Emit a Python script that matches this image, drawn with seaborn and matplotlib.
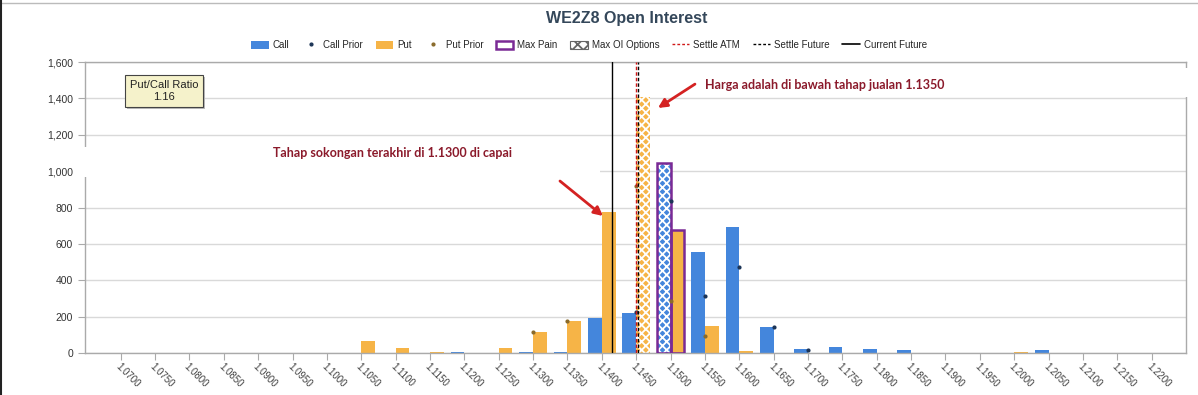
import numpy as np
import pandas as pd
import seaborn as sns
import matplotlib.pyplot as plt
from matplotlib.patches import Patch, Rectangle
from matplotlib.lines import Line2D
from matplotlib.ticker import FuncFormatter
import matplotlib.transforms as mtransforms

# strike prices (x axis categories)
strikes = ["1.0700", "1.0750", "1.0800", "1.0850", "1.0900", "1.0950", "1.1000",
           "1.1050", "1.1100", "1.1150", "1.1200", "1.1250", "1.1300", "1.1350",
           "1.1400", "1.1450", "1.1500", "1.1550", "1.1600", "1.1650", "1.1700",
           "1.1750", "1.1800", "1.1850", "1.1900", "1.1950", "1.2000", "1.2050",
           "1.2100", "1.2150", "1.2200"]

# open interest
call_oi = [0, 0, 0, 0, 0, 0, 0, 0, 0, 0, 5, 0, 4, 4, 194, 222, 1047, 554, 691, 145,
           22, 35, 24, 17, 0, 0, 0, 18, 0, 0, 0]
put_oi = [0, 0, 0, 0, 0, 0, 0, 68, 29, 6, 0, 29, 115, 176, 774, 1405, 676, 149, 10, 0,
          0, 0, 0, 0, 0, 0, 7, 0, 0, 0, 0]
nan = np.nan
call_prior = [nan] * 15 + [227, 838, 315, 475, 141, 16] + [nan] * 10
put_prior = [nan] * 12 + [118, 176, nan, 918, 288, 94] + [nan] * 13

max_pain = "1.1500"
max_oi_call = "1.1500"
max_oi_put = "1.1450"
settle_atm = 1.1450
settle_future = 1.1453
current_future = 1.1415
put_call_ratio = "1.16"

call_color = "#4486dc"
put_color = "#f6b447"
call_prior_color = "#1d3557"
put_prior_color = "#8a6b2c"
pain_color = "#7a2a95"

sns.set_style("white")
plt.rcParams["font.family"] = ["Liberation Sans", "DejaVu Sans"]
plt.rcParams["hatch.linewidth"] = 1.3

x_vals = [float(s) for s in strikes]
df = pd.DataFrame({
    "strike": x_vals * 2,
    "oi": call_oi + put_oi,
    "type": ["Call"] * len(strikes) + ["Put"] * len(strikes),
})

fig = plt.figure(figsize=(11.98, 3.95), dpi=100)
ax = fig.add_axes([85 / 1198, 1 - 353 / 395, (1186 - 85) / 1198, (353 - 62) / 395])

sns.barplot(data=df, x="strike", y="oi", hue="type", hue_order=["Call", "Put"],
            palette=[call_color, put_color], native_scale=True, width=0.8,
            dodge=True, errorbar=None, saturation=1, legend=False, ax=ax,
            linewidth=0, zorder=2)

# max OI hatching and max pain outline
call_bars = ax.containers[0]
put_bars = ax.containers[1]
for bars, hatch_at in [(call_bars, max_oi_call), (put_bars, max_oi_put)]:
    p = bars[strikes.index(hatch_at)]
    p.set_hatch("xxxx")
    p.set_edgecolor("white")
    p.set_linewidth(0)
for bars in [call_bars, put_bars]:
    p = bars[strikes.index(max_pain)]
    ax.add_patch(Rectangle((p.get_x(), 0), p.get_width(), p.get_height(),
                           fill=False, edgecolor=pain_color, lw=1.8, zorder=4))

sns.scatterplot(x=x_vals, y=call_prior, color=call_prior_color, s=9,
                linewidth=0, zorder=5, ax=ax)
sns.scatterplot(x=x_vals, y=put_prior, color=put_prior_color, s=9,
                linewidth=0, zorder=5, ax=ax)

ax.axvline(current_future, color="black", lw=1, zorder=6)
ax.axvline(settle_atm, color="#d01818", lw=1, ls=(0, (2.5, 1.5)), zorder=6)
ax.axvline(settle_future, color="black", lw=1, ls=(0, (2.5, 1.5)), zorder=6)

ax.set_xlim(1.0648, 1.2250)
ax.set_ylim(0, 1600)
ax.set_xticks(x_vals)
ax.set_xticklabels(strikes, rotation=-45, ha="left", va="top",
                   rotation_mode="anchor", fontsize=7, color="#444444")
ax.set_yticks(range(0, 1601, 200))
ax.yaxis.set_major_formatter(FuncFormatter(lambda v, _: f"{v:,.0f}"))
ax.tick_params(axis="y", labelsize=7.5, labelcolor="#333333", length=5,
               color="#aaaaaa", direction="out", left=True)
ax.tick_params(axis="x", length=5, color="#aaaaaa", direction="out",
               bottom=True, pad=1)
ax.set_xlabel("")
ax.set_ylabel("")
ax.yaxis.grid(True, color="#d9d9d9", lw=1)
ax.set_axisbelow(True)
for s in ax.spines.values():
    s.set_color("#aaaaaa")
    s.set_linewidth(1)

# put/call ratio box with a little shadow
shadow = mtransforms.offset_copy(ax.transAxes, fig=fig, x=2, y=-2, units="dots")
ax.text(0.0718, 0.900, f"Put/Call Ratio\n{put_call_ratio}", transform=shadow,
        ha="center", va="center", fontsize=8, color="none", linespacing=1.15,
        bbox=dict(boxstyle="square,pad=0.45", fc="#bbbbbb", ec="none"), zorder=7)
ax.text(0.0718, 0.900, f"Put/Call Ratio\n{put_call_ratio}", transform=ax.transAxes,
        ha="center", va="center", fontsize=8, color="#222222", linespacing=1.15,
        bbox=dict(boxstyle="square,pad=0.45", fc="#f5f2cb", ec="#444444", lw=0.8),
        zorder=8)

# white patches left over from the edited screenshot
fig.add_artist(Rectangle((73 / 1198, 1 - 177 / 395), 527 / 1198, 30 / 395,
                         transform=fig.transFigure, fc="white", ec="none", zorder=9))
fig.add_artist(Rectangle((700 / 1198, 1 - 97 / 395), 498 / 1198, 29 / 395,
                         transform=fig.transFigure, fc="white", ec="none", zorder=9))

# annotations
note_color = "#8b1a2b"
arrow = dict(arrowstyle="-|>", color="#d42222", lw=2, mutation_scale=13,
             shrinkA=0, shrinkB=0)
fig.text(705 / 1198, 1 - 85 / 395, "Harga adalah di bawah tahap jualan 1.1350",
         ha="left", va="center", fontsize=9, fontweight="bold", color=note_color,
         family=["Lato", "DejaVu Sans"], zorder=10)
fig.text(273 / 1198, 1 - 153 / 395, "Tahap sokongan terakhir di 1.1300 di capai",
         ha="left", va="center", fontsize=9, fontweight="bold", color=note_color,
         family=["Lato", "DejaVu Sans"], zorder=10)
ax.annotate("", xy=(0.5204, 0.842), xytext=(0.554, 0.924), xycoords="axes fraction",
            arrowprops=arrow, zorder=10)
ax.annotate("", xy=(0.4705, 0.4708), xytext=(0.4314, 0.591), xycoords="axes fraction",
            arrowprops=arrow, zorder=10)

# title and legend
fig.text(627 / 1198, 1 - 18 / 395, "WE2Z8 Open Interest", ha="center", va="center",
         fontsize=11.5, fontweight="bold", color="#34475a")

handles = [
    Patch(fc=call_color, ec="none", label="Call"),
    Line2D([], [], ls="none", marker="o", ms=2, color=call_prior_color, label="Call Prior"),
    Patch(fc=put_color, ec="none", label="Put"),
    Line2D([], [], ls="none", marker="o", ms=2, color=put_prior_color, label="Put Prior"),
    Patch(fc="white", ec=pain_color, lw=1.8, label="Max Pain"),
    Patch(fc="white", ec="#666666", hatch="xxx", lw=0.8, label="Max OI Options"),
    Line2D([], [], color="#d01818", lw=1, ls=(0, (2, 1.5)), label="Settle ATM"),
    Line2D([], [], color="black", lw=1, ls=(0, (2, 1.5)), label="Settle Future"),
    Line2D([], [], color="black", lw=1.2, label="Current Future"),
]
fig.legend(handles=handles, loc="center", bbox_to_anchor=(589 / 1198, 1 - 45 / 395),
           ncol=9, frameon=False, fontsize=7, handlelength=1.8, handleheight=0.9,
           handletextpad=0.4, columnspacing=1.3)

# thin border of the screenshot
fig.add_artist(Line2D([0, 1], [1 - 3 / 395] * 2, transform=fig.transFigure,
                      color="#bbbbbb", lw=1))
fig.add_artist(Line2D([0.5 / 1198] * 2, [0, 1], transform=fig.transFigure,
                      color="#222222", lw=1.5))

fig.savefig("out.png", dpi=100)
